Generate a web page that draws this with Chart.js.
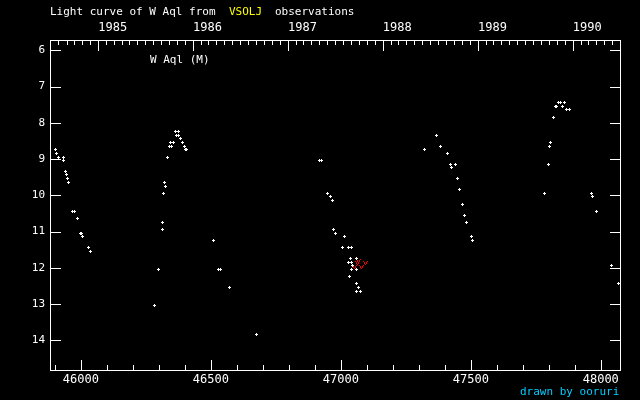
<!DOCTYPE html>
<html>
<head>
<meta charset="utf-8">
<script src="https://cdn.jsdelivr.net/npm/chart.js@4.4.1/dist/chart.umd.min.js"></script>
<style>
  html, body { margin: 0; padding: 0; background: #000; }
  #wrap { width: 640px; height: 400px; }
</style>
</head>
<body>
<div id="wrap"><canvas id="lc" width="640" height="400"></canvas></div>
<script>
// JD - 2400000 and visual magnitudes (white crosses)
const obsJD = [
  45901, 45905, 45915, 45932, 45932, 45940, 45944, 45948, 45952, 45967, 45974, 45986, 45998, 46002, 46005, 46028, 46036,
  46282, 46298, 46313, 46313, 46317, 46321, 46325, 46332, 46340, 46348, 46344, 46355, 46363, 46375, 46367, 46375, 46382, 46390, 46398, 46402, 46405, 46509, 46528, 46536, 46571, 46675,
  46917, 46925, 46950, 46959, 46967, 46971, 46978, 47013, 47005, 47028, 47040, 47036, 47028, 47040, 47059, 47044, 47040, 47059, 47032, 47059, 47067, 47059, 47075,
  47321, 47367, 47382, 47409, 47421, 47440, 47425, 47450, 47456, 47467, 47475, 47482, 47502, 47505,
  47782, 47798, 47801, 47805, 47817, 47825, 47829, 47836, 47844, 47852, 47859, 47867, 47878, 47963, 47967, 47982, 48040, 48067
];
const obsMag = [
  8.73, 8.85, 8.96, 8.95, 9.03, 9.34, 9.44, 9.54, 9.65, 10.45, 10.45, 10.64, 11.05, 11.05, 11.14, 11.44, 11.55,
  13.04, 12.05, 10.94, 10.75, 9.95, 9.65, 9.76, 8.96, 8.65, 8.65, 8.54, 8.54, 8.24, 8.24, 8.35, 8.35, 8.43, 8.54, 8.65, 8.73, 8.73, 11.25, 12.05, 12.05, 12.55, 13.85,
  9.04, 9.04, 9.95, 10.03, 10.14, 10.94, 11.06, 11.14, 11.44, 11.44, 11.44, 11.75, 11.86, 11.86, 11.75, 11.94, 12.05, 12.05, 12.24, 12.44, 12.55, 12.66, 12.66,
  8.73, 8.35, 8.65, 8.85, 9.15, 9.15, 9.23, 9.54, 9.84, 10.25, 10.56, 10.75, 11.14, 11.25,
  9.95, 9.15, 8.65, 8.54, 7.85, 7.55, 7.55, 7.44, 7.44, 7.55, 7.44, 7.63, 7.63, 9.95, 10.03, 10.45, 11.94, 12.44
];
// red "v" marks
const redJD = [47066, 47063, 47094, 47052, 47079];
const redMag = [11.80, 11.88, 11.88, 11.99, 11.99];

const xTicks = [46000, 46500, 47000, 47500, 48000];
const yTicks = [6, 7, 8, 9, 10, 11, 12, 13, 14];
const yearLabels = ['1985', '1986', '1987', '1988', '1989', '1990'];

const JD_MIN = 45881, JD_MAX = 48074;
const MAG_MIN = 5.716, MAG_MAX = 14.82;
const MONO = '"DejaVu Sans Mono", monospace';

// JD-2400000 at the start of a calendar month
const monthJD = (y, m) => Date.UTC(y, m, 1) / 86400000 + 40587.5;
const yearJD = yearLabels.map(y => monthJD(Number(y), 0));

const makeMark = (w, h, pixels, color) => {
  const c = document.createElement('canvas');
  c.width = w; c.height = h;
  const g = c.getContext('2d');
  g.fillStyle = color;
  pixels.forEach(([px, py]) => g.fillRect(px, py, 1, 1));
  return c;
};
const plusMark = makeMark(3, 3, [[1, 0], [0, 1], [1, 1], [2, 1], [1, 2]], '#ffffff');
const vMark = makeMark(5, 4, [[0, 0], [4, 0], [1, 1], [3, 1], [1, 2], [3, 2], [2, 3]], '#ff0000');

const frameAndText = {
  id: 'frameAndText',
  beforeDatasetsDraw(chart) {
    chart.ctx.imageSmoothingEnabled = false;
  },
  afterDraw(chart) {
    const { ctx, chartArea: a, scales } = chart;
    const L = Math.round(a.left), R = Math.round(a.right), T = Math.round(a.top), B = Math.round(a.bottom);
    ctx.save();
    ctx.fillStyle = '#ffffff';
    // frame
    ctx.fillRect(L, T, R - L + 1, 1);
    ctx.fillRect(L, B, R - L + 1, 1);
    ctx.fillRect(L, T, 1, B - T + 1);
    ctx.fillRect(R, T, 1, B - T + 1);
    // bottom ticks, every 100 days
    for (let v = 45900; v <= JD_MAX; v += 100) {
      if (v < JD_MIN) continue;
      const px = Math.round(scales.x.getPixelForValue(v));
      const len = v % 500 === 0 ? 10 : 5;
      ctx.fillRect(px, B - len, 1, len);
    }
    // top ticks, months and years
    for (let y = 1984; y <= 1990; y++) {
      for (let m = 0; m < 12; m++) {
        const jd = monthJD(y, m);
        if (jd <= JD_MIN || jd >= JD_MAX) continue;
        const px = Math.round(scales.xTop.getPixelForValue(jd));
        const len = m === 0 ? 10 : 4;
        ctx.fillRect(px, T + 1, 1, len);
      }
    }
    // magnitude ticks on both sides
    yTicks.forEach(v => {
      const py = Math.round(scales.y.getPixelForValue(v));
      ctx.fillRect(L + 1, py, 10, 1);
      ctx.fillRect(R - 10, py, 10, 1);
    });
    // texts
    ctx.textBaseline = 'middle';
    ctx.textAlign = 'left';
    ctx.font = '11px ' + MONO;
    ctx.fillStyle = '#ffffff';
    ctx.fillText('Light curve of W Aql from', 50, 12);
    ctx.fillStyle = '#ffff00';
    ctx.fillText('VSOLJ', 229, 12);
    ctx.fillStyle = '#ffffff';
    ctx.fillText('observations', 275, 12);
    ctx.fillText('W Aql (M)', 150, 60);
    ctx.fillStyle = '#00ccff';
    ctx.fillText('drawn by ooruri', 520, 392);
    ctx.restore();
  }
};

const ctx = document.getElementById('lc').getContext('2d');
new Chart(ctx, {
  type: 'scatter',
  data: {
    datasets: [
      {
        label: 'visual',
        data: obsJD.map((jd, i) => ({ x: jd, y: obsMag[i] })),
        pointStyle: plusMark,
        pointRadius: 2,
        pointHoverRadius: 2
      },
      {
        label: 'fainter',
        data: redJD.map((jd, i) => ({ x: jd, y: redMag[i] })),
        pointStyle: vMark,
        pointRadius: 2,
        pointHoverRadius: 2
      }
    ]
  },
  options: {
    responsive: false,
    animation: false,
    events: [],
    layout: { padding: { left: 0, right: 20, top: 0, bottom: 0 } },
    plugins: { legend: { display: false }, tooltip: { enabled: false } },
    scales: {
      x: {
        type: 'linear',
        position: 'bottom',
        min: JD_MIN,
        max: JD_MAX,
        grid: { display: false, drawTicks: false },
        border: { display: false },
        ticks: {
          color: '#ffffff',
          font: { family: MONO, size: 12 },
          padding: 3,
          maxRotation: 0,
          autoSkip: false,
          callback: v => String(v)
        },
        afterBuildTicks: s => { s.ticks = xTicks.map(v => ({ value: v })); },
        afterFit: s => { s.height = 30; s.paddingLeft = 0; s.paddingRight = 0; }
      },
      xTop: {
        type: 'linear',
        position: 'top',
        min: JD_MIN,
        max: JD_MAX,
        grid: { display: false, drawTicks: false },
        border: { display: false },
        ticks: {
          color: '#ffffff',
          font: { family: MONO, size: 12 },
          padding: 5,
          align: 'start',
          maxRotation: 0,
          autoSkip: false,
          callback: (v, i) => yearLabels[i]
        },
        afterBuildTicks: s => { s.ticks = yearJD.map(v => ({ value: v })); },
        afterFit: s => { s.height = 40; s.paddingLeft = 0; s.paddingRight = 0; }
      },
      y: {
        type: 'linear',
        reverse: true,
        min: MAG_MIN,
        max: MAG_MAX,
        grid: { display: false, drawTicks: false },
        border: { display: false },
        ticks: {
          color: '#ffffff',
          font: { family: MONO, size: 11 },
          padding: 5,
          autoSkip: false,
          callback: v => String(v)
        },
        afterBuildTicks: s => { s.ticks = yTicks.map(v => ({ value: v })); },
        afterFit: s => { s.width = 50; s.paddingTop = 0; s.paddingBottom = 0; }
      }
    }
  },
  plugins: [frameAndText]
});
</script>
</body>
</html>
